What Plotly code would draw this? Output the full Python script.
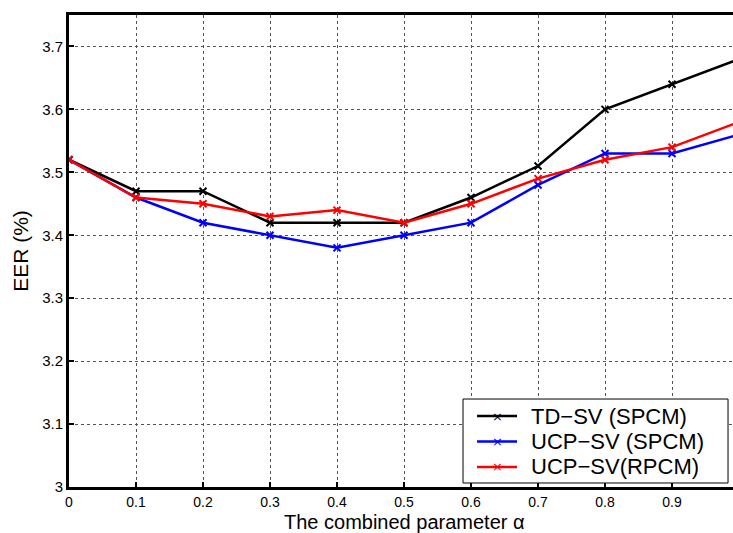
import plotly.graph_objects as go

# Combined parameter alpha and EER (%) for each system
alpha = [0.0, 0.1, 0.2, 0.3, 0.4, 0.5, 0.6, 0.7, 0.8, 0.9, 1.0]
td_sv_spcm = [3.52, 3.47, 3.47, 3.42, 3.42, 3.42, 3.46, 3.51, 3.60, 3.64, 3.68]
ucp_sv_spcm = [3.52, 3.46, 3.42, 3.40, 3.38, 3.40, 3.42, 3.48, 3.53, 3.53, 3.56]
ucp_sv_rpcm = [3.52, 3.46, 3.45, 3.43, 3.44, 3.42, 3.45, 3.49, 3.52, 3.54, 3.58]

x_ticks = [0, 0.1, 0.2, 0.3, 0.4, 0.5, 0.6, 0.7, 0.8, 0.9]
x_tick_text = ["0", "0.1", "0.2", "0.3", "0.4", "0.5", "0.6", "0.7", "0.8", "0.9"]
y_ticks = [3.0, 3.1, 3.2, 3.3, 3.4, 3.5, 3.6, 3.7]
y_tick_text = ["3", "3.1", "3.2", "3.3", "3.4", "3.5", "3.6", "3.7"]

series = [
    ("TD\u2212SV (SPCM)", td_sv_spcm, "#000000"),
    ("UCP\u2212SV (SPCM)", ucp_sv_spcm, "#0000ff"),
    ("UCP\u2212SV(RPCM)", ucp_sv_rpcm, "#ff0000"),
]

font_family = "Liberation Sans, Arial, sans-serif"

fig = go.Figure()
for name, vals, color in series:
    fig.add_trace(go.Scatter(
        x=alpha, y=vals, name=name, mode="lines+markers",
        line=dict(color=color, width=2.5),
        marker=dict(symbol="x-thin", size=7, color=color,
                    line=dict(color=color, width=2)),
        showlegend=False,
    ))

# Compact MATLAB-style legend box in the lower right corner (paper coords)
box_x0, box_x1 = 0.5934, 0.9925
box_y0, box_y1 = 0.0085, 0.1864
row_y = [0.1504, 0.0964, 0.0424]
sample_x0, sample_x1 = 0.6145, 0.6747
text_x = 0.6943

shapes = [dict(type="rect", xref="paper", yref="paper",
               x0=box_x0, x1=box_x1, y0=box_y0, y1=box_y1,
               line=dict(color="black", width=1), fillcolor="white", layer="above")]
annotations = []
for (name, _, color), ry in zip(series, row_y):
    shapes.append(dict(type="line", xref="paper", yref="paper",
                       x0=sample_x0, x1=sample_x1, y0=ry, y1=ry,
                       line=dict(color=color, width=2.5), layer="above"))
    annotations.append(dict(xref="paper", yref="paper",
                            x=(sample_x0 + sample_x1) / 2, y=ry,
                            text="\u00d7", showarrow=False, borderpad=0,
                            font=dict(size=13, color=color, family="DejaVu Sans"),
                            xanchor="center", yanchor="middle"))
    annotations.append(dict(xref="paper", yref="paper", x=text_x, y=ry,
                            text=name, showarrow=False, borderpad=0,
                            font=dict(size=22, color="black", family=font_family),
                            xanchor="left", yanchor="middle"))

# x-axis title placed below the tick labels
annotations.append(dict(xref="paper", yref="paper", x=0.505, y=0,
                        text="The combined parameter \u03b1", showarrow=False,
                        font=dict(size=20, color="black", family=font_family),
                        xanchor="center", yanchor="top", yshift=-23, borderpad=0))

fig.update_layout(
    width=733, height=533,
    margin=dict(l=69, r=0, t=15, b=46),
    paper_bgcolor="white", plot_bgcolor="white",
    font=dict(family=font_family, color="black", size=14),
    showlegend=False,
    shapes=shapes,
    annotations=annotations,
    xaxis=dict(
        range=[0, 0.991], tickvals=x_ticks, ticktext=x_tick_text,
        showline=True, linecolor="black", linewidth=3, mirror=True,
        ticks="inside", ticklen=5, tickwidth=2, tickcolor="black",
        showgrid=True, gridcolor="#555555", griddash="dot", gridwidth=1,
        zeroline=False,
        tickfont=dict(size=14),
    ),
    yaxis=dict(
        range=[3.0, 3.75], tickvals=y_ticks, ticktext=y_tick_text,
        showline=True, linecolor="black", linewidth=3, mirror=False,
        ticks="inside", ticklen=5, tickwidth=2, tickcolor="black",
        showgrid=True, gridcolor="#555555", griddash="dot", gridwidth=1,
        zeroline=False,
        tickfont=dict(size=15),
        title=dict(text="EER (%)", font=dict(size=21), standoff=8),
    ),
)

fig.write_html("out.html")
